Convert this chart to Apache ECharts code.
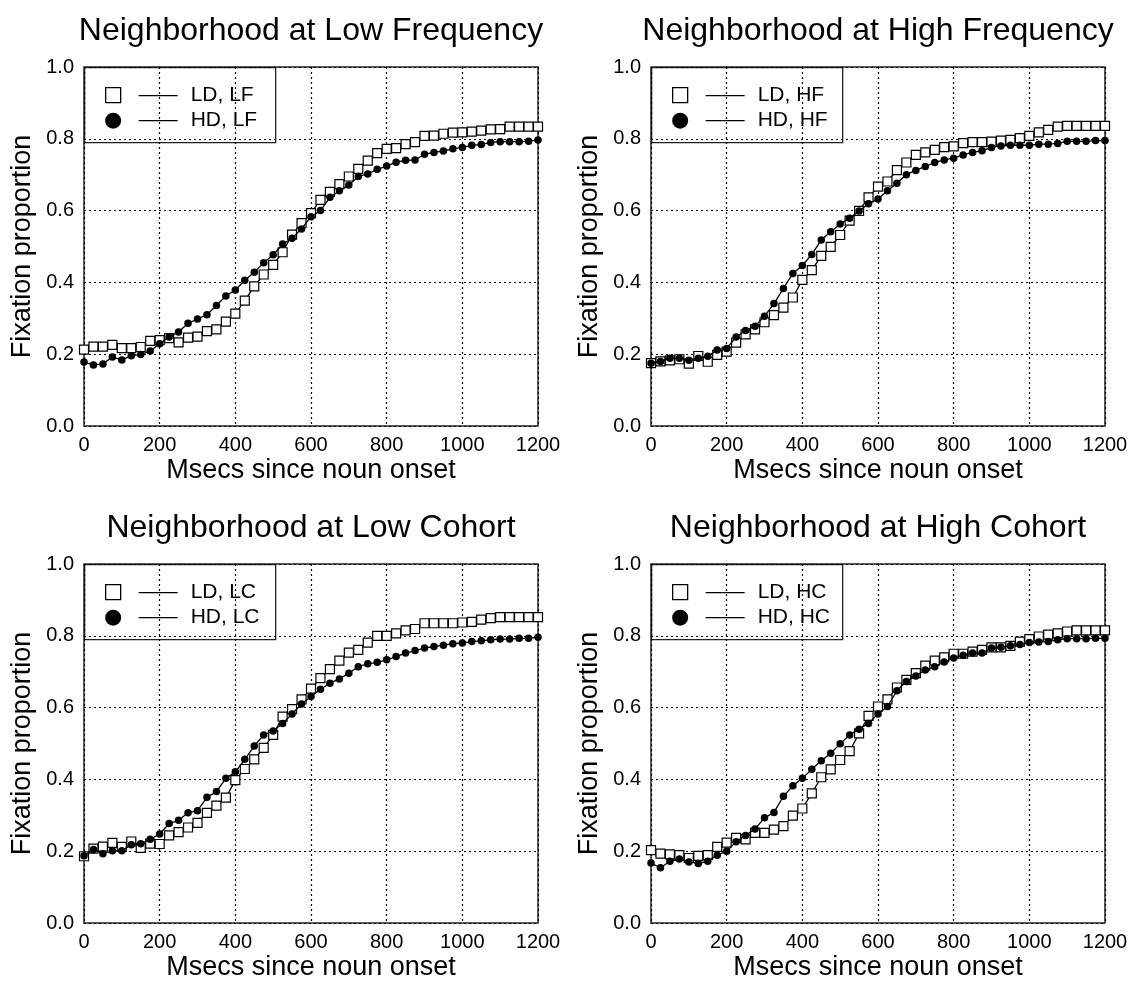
<!DOCTYPE html>
<html>
<head>
<meta charset="utf-8">
<title>Neighborhood fixation curves</title>
<script src="https://cdn.jsdelivr.net/npm/echarts@6/dist/echarts.min.js"></script>
<style>
  html, body { margin: 0; padding: 0; background: #fff; }
  #chart { width: 1132px; height: 982px; }
</style>
</head>
<body>
<div id="chart"></div>
<script>
// time bins (ms since noun onset)
const msecs = [0, 25, 50, 75, 100, 125, 150, 175, 200, 225, 250, 275, 300, 325, 350, 375, 400,
  425, 450, 475, 500, 525, 550, 575, 600, 625, 650, 675, 700, 725, 750, 775, 800,
  825, 850, 875, 900, 925, 950, 975, 1000, 1025, 1050, 1075, 1100, 1125, 1150, 1175, 1200];

const xTicks = [0, 200, 400, 600, 800, 1000, 1200];
const yTicks = [0.0, 0.2, 0.4, 0.6, 0.8, 1.0];

const panelTitles = [
  "Neighborhood at Low Frequency",
  "Neighborhood at High Frequency",
  "Neighborhood at Low Cohort",
  "Neighborhood at High Cohort",
];
const ldNames = ["LD, LF", "LD, HF", "LD, LC", "LD, HC"];
const hdNames = ["HD, LF", "HD, HF", "HD, LC", "HD, HC"];

// fixation proportions
const ldLF = [0.213, 0.221, 0.221, 0.226, 0.217, 0.217, 0.220, 0.237, 0.239, 0.245,
  0.233, 0.246, 0.249, 0.264, 0.269, 0.291, 0.313, 0.349, 0.389, 0.422,
  0.449, 0.484, 0.533, 0.565, 0.593, 0.630, 0.652, 0.674, 0.695, 0.716,
  0.739, 0.760, 0.772, 0.774, 0.785, 0.791, 0.808, 0.809, 0.814, 0.817,
  0.818, 0.820, 0.823, 0.826, 0.827, 0.834, 0.834, 0.834, 0.834];
const hdLF = [0.178, 0.170, 0.173, 0.192, 0.184, 0.196, 0.199, 0.209, 0.229, 0.248,
  0.262, 0.286, 0.298, 0.310, 0.336, 0.362, 0.379, 0.406, 0.428, 0.455,
  0.477, 0.507, 0.523, 0.549, 0.583, 0.600, 0.637, 0.655, 0.671, 0.695,
  0.702, 0.715, 0.724, 0.735, 0.740, 0.741, 0.757, 0.762, 0.766, 0.772,
  0.776, 0.782, 0.784, 0.790, 0.792, 0.792, 0.792, 0.793, 0.797];

const ldHF = [0.175, 0.180, 0.183, 0.186, 0.174, 0.195, 0.179, 0.198, 0.207, 0.232,
  0.255, 0.269, 0.289, 0.309, 0.330, 0.358, 0.407, 0.434, 0.474, 0.499,
  0.532, 0.572, 0.599, 0.637, 0.667, 0.681, 0.713, 0.734, 0.755, 0.762,
  0.769, 0.777, 0.779, 0.788, 0.791, 0.791, 0.792, 0.795, 0.797, 0.802,
  0.808, 0.818, 0.825, 0.834, 0.836, 0.836, 0.836, 0.836, 0.836];
const hdHF = [0.175, 0.180, 0.189, 0.189, 0.183, 0.189, 0.194, 0.212, 0.216, 0.248,
  0.266, 0.278, 0.306, 0.341, 0.383, 0.425, 0.447, 0.478, 0.518, 0.541,
  0.563, 0.579, 0.599, 0.619, 0.632, 0.655, 0.676, 0.700, 0.712, 0.723,
  0.734, 0.741, 0.746, 0.755, 0.762, 0.767, 0.776, 0.780, 0.782, 0.782,
  0.782, 0.785, 0.785, 0.787, 0.793, 0.793, 0.793, 0.795, 0.795];

const ldLC = [0.186, 0.207, 0.213, 0.223, 0.212, 0.227, 0.209, 0.221, 0.220, 0.244,
  0.253, 0.266, 0.279, 0.307, 0.327, 0.349, 0.398, 0.429, 0.456, 0.488,
  0.524, 0.575, 0.596, 0.623, 0.653, 0.682, 0.707, 0.731, 0.753, 0.761,
  0.781, 0.800, 0.800, 0.807, 0.815, 0.819, 0.835, 0.835, 0.835, 0.835,
  0.837, 0.839, 0.845, 0.849, 0.852, 0.852, 0.852, 0.852, 0.852];
const hdLC = [0.187, 0.205, 0.193, 0.201, 0.201, 0.218, 0.221, 0.233, 0.248, 0.277,
  0.286, 0.307, 0.313, 0.350, 0.366, 0.403, 0.421, 0.456, 0.493, 0.524,
  0.535, 0.556, 0.582, 0.610, 0.631, 0.651, 0.668, 0.680, 0.696, 0.714,
  0.722, 0.726, 0.733, 0.742, 0.752, 0.759, 0.766, 0.770, 0.774, 0.778,
  0.780, 0.784, 0.786, 0.789, 0.791, 0.791, 0.793, 0.793, 0.796];

const ldHC = [0.203, 0.193, 0.191, 0.189, 0.181, 0.187, 0.189, 0.212, 0.224, 0.237,
  0.233, 0.251, 0.251, 0.260, 0.270, 0.299, 0.319, 0.361, 0.406, 0.428,
  0.454, 0.479, 0.528, 0.577, 0.603, 0.623, 0.656, 0.677, 0.696, 0.717,
  0.731, 0.740, 0.750, 0.750, 0.756, 0.761, 0.768, 0.768, 0.772, 0.784,
  0.791, 0.798, 0.803, 0.807, 0.812, 0.815, 0.815, 0.815, 0.815];
const hdHC = [0.167, 0.154, 0.172, 0.178, 0.170, 0.166, 0.172, 0.189, 0.200, 0.226,
  0.244, 0.262, 0.293, 0.308, 0.353, 0.382, 0.403, 0.428, 0.452, 0.473,
  0.499, 0.524, 0.540, 0.556, 0.582, 0.603, 0.647, 0.673, 0.688, 0.705,
  0.714, 0.727, 0.738, 0.746, 0.752, 0.752, 0.766, 0.768, 0.772, 0.776,
  0.781, 0.783, 0.784, 0.789, 0.792, 0.792, 0.792, 0.793, 0.793];

const ldSeries = [ldLF, ldHF, ldLC, ldHC];
const hdSeries = [hdLF, hdHF, hdLC, hdHC];

const FONT = "'Liberation Sans', Arial, Helvetica, sans-serif";

// plot boxes in pixels
const panels = [
  { left: 84, top: 67, width: 454, height: 359 },
  { left: 651, top: 67, width: 454, height: 359 },
  { left: 84, top: 564, width: 454, height: 359 },
  { left: 651, top: 564, width: 454, height: 359 },
];

const pairs = (ys) => msecs.map((t, i) => [t, ys[i]]);

const chart = echarts.init(document.getElementById("chart"), null, { renderer: "canvas" });

const grids = [], xAxes = [], yAxes = [], titles = [], series = [], graphics = [];

panels.forEach((p, k) => {
  grids.push({
    left: p.left, top: p.top, width: p.width, height: p.height,
    show: true, borderColor: "#222", borderWidth: 1.5, backgroundColor: "transparent",
  });

  titles.push({
    text: panelTitles[k],
    left: p.left + p.width / 2,
    top: p.top - 52,
    textAlign: "center",
    padding: 0,
    textStyle: { fontFamily: FONT, fontSize: 32, fontWeight: "normal", color: "#000" },
  });

  xAxes.push({
    gridIndex: k, type: "value",
    min: xTicks[0], max: xTicks[xTicks.length - 1], interval: 200,
    name: "Msecs since noun onset", nameLocation: "middle", nameGap: 31,
    nameTextStyle: { fontFamily: FONT, fontSize: 27, color: "#000" },
    axisLine: { show: false }, axisTick: { show: false },
    axisLabel: {
      fontFamily: FONT, fontSize: 20, color: "#000", margin: 9,
      formatter: (v) => String(v),
    },
    splitLine: { show: true, lineStyle: { color: "#000", width: 1.2, type: [2, 3] } },
  });

  yAxes.push({
    gridIndex: k, type: "value",
    min: yTicks[0], max: yTicks[yTicks.length - 1], interval: 0.2,
    name: "Fixation proportion", nameLocation: "middle", nameGap: 48,
    nameTextStyle: { fontFamily: FONT, fontSize: 27, color: "#000" },
    axisLine: { show: false }, axisTick: { show: false },
    axisLabel: {
      fontFamily: FONT, fontSize: 20, color: "#000", margin: 10,
      formatter: (v) => v.toFixed(1),
    },
    splitLine: { show: true, lineStyle: { color: "#000", width: 1.2, type: [2, 3] } },
  });

  series.push({
    name: ldNames[k], type: "line", xAxisIndex: k, yAxisIndex: k,
    data: pairs(ldSeries[k]),
    symbol: "rect", symbolSize: 9, showAllSymbol: true,
    itemStyle: { color: "#fff", borderColor: "#000", borderWidth: 1.2 },
    lineStyle: { color: "#000", width: 1.3 },
    emphasis: { disabled: true }, z: 3,
  });
  series.push({
    name: hdNames[k], type: "line", xAxisIndex: k, yAxisIndex: k,
    data: pairs(hdSeries[k]),
    symbol: "circle", symbolSize: 7.5, showAllSymbol: true,
    itemStyle: { color: "#000", borderWidth: 0 },
    lineStyle: { color: "#000", width: 1.3 },
    emphasis: { disabled: true }, z: 4,
  });

  // boxed key in the upper-left corner of each plot
  graphics.push({
    type: "group", left: p.left, top: p.top, z: 100,
    children: [
      { type: "rect", shape: { x: 0, y: 0, width: 191, height: 75 },
        style: { fill: "#fff", stroke: "#222", lineWidth: 1.3 } },
      { type: "rect", shape: { x: 21, y: 20, width: 15, height: 15 },
        style: { fill: "#fff", stroke: "#000", lineWidth: 1.3 } },
      { type: "line", shape: { x1: 54, y1: 28, x2: 93, y2: 28 },
        style: { stroke: "#000", lineWidth: 1.2 } },
      { type: "text", x: 106, y: 28,
        style: { text: ldNames[k], font: "21px " + FONT, fill: "#000", verticalAlign: "middle" } },
      { type: "circle", shape: { cx: 28.5, cy: 53, r: 8 }, style: { fill: "#000" } },
      { type: "line", shape: { x1: 54, y1: 53, x2: 93, y2: 53 },
        style: { stroke: "#000", lineWidth: 1.2 } },
      { type: "text", x: 106, y: 53,
        style: { text: hdNames[k], font: "21px " + FONT, fill: "#000", verticalAlign: "middle" } },
    ],
  });
});

const option = {
  backgroundColor: "#fff",
  animation: false,
  title: titles,
  grid: grids,
  xAxis: xAxes,
  yAxis: yAxes,
  series: series,
  graphic: graphics,
};

option && chart.setOption(option);
</script>
</body>
</html>
